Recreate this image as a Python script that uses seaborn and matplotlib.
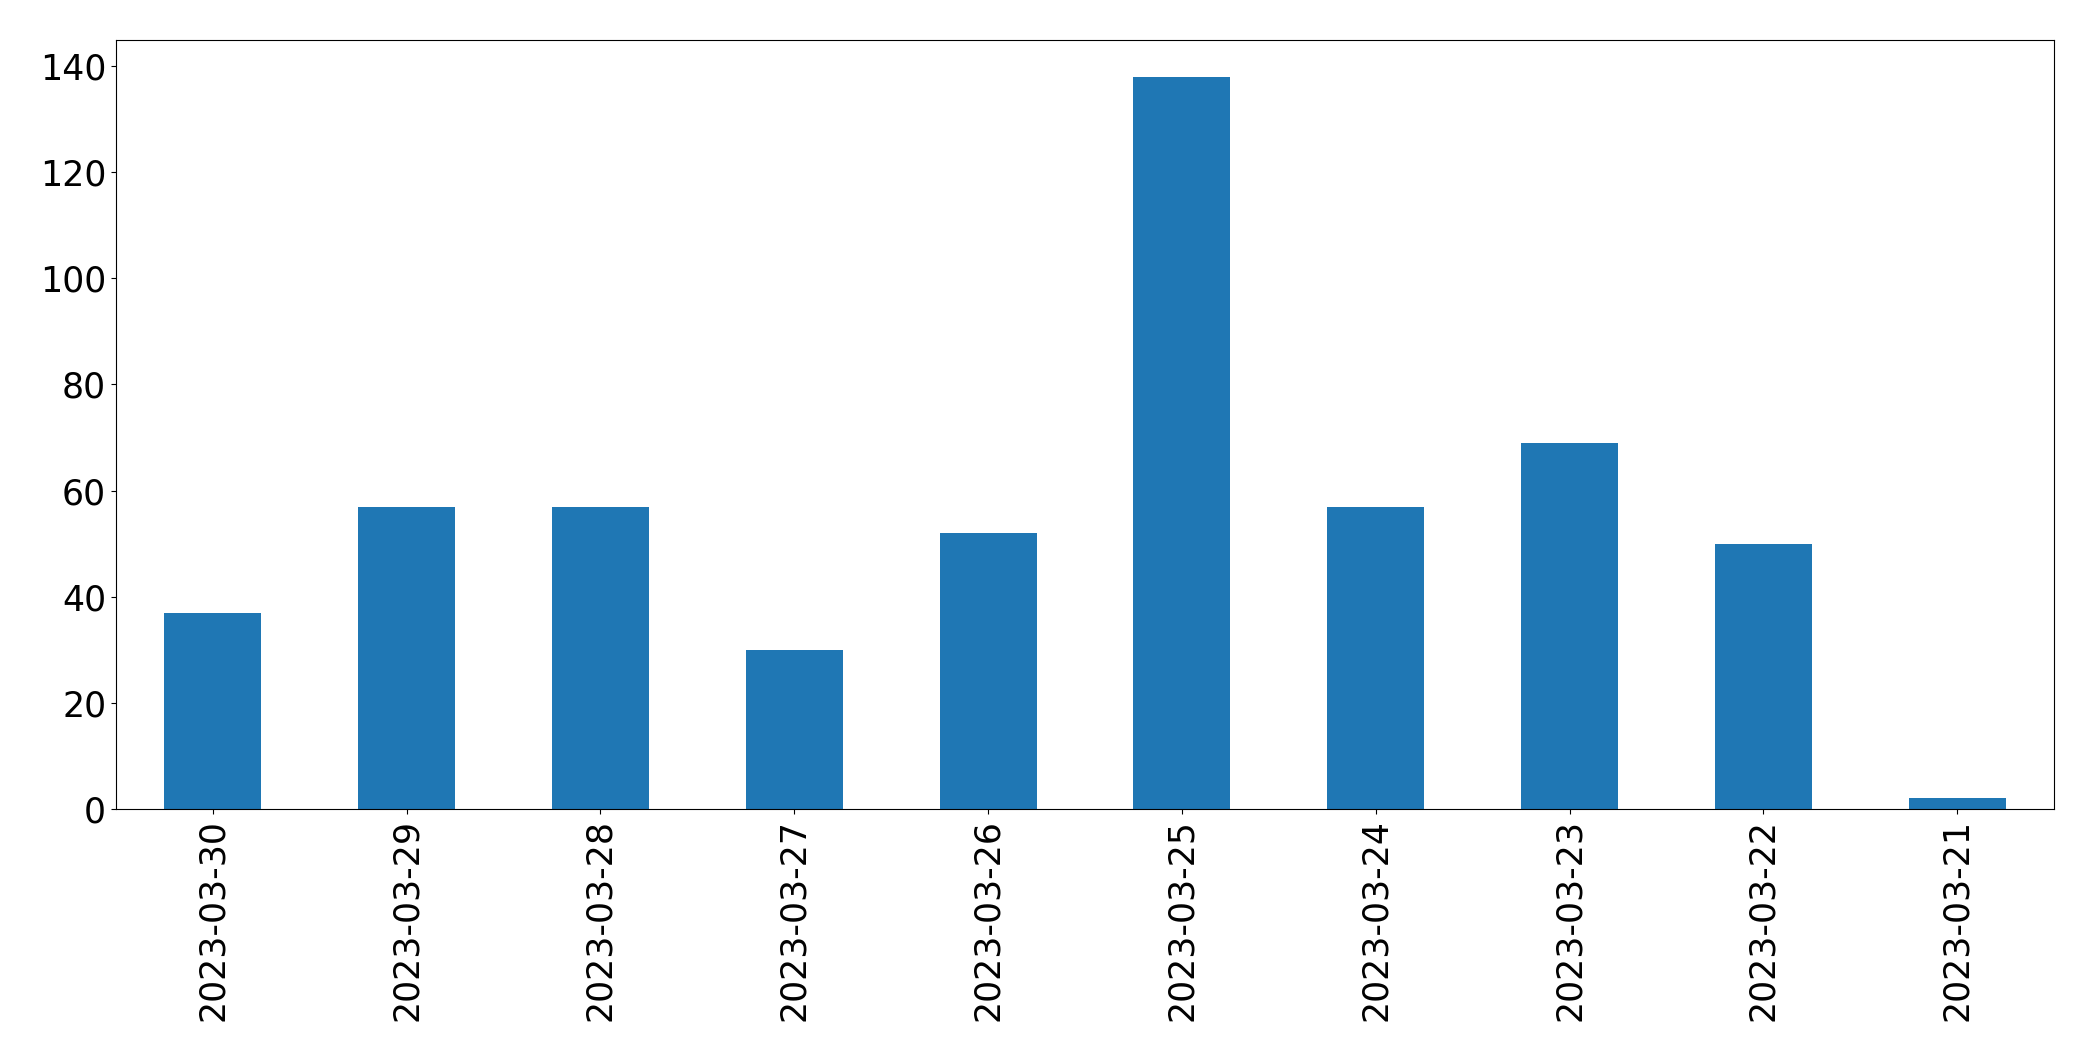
import matplotlib
matplotlib.use('Agg')
import matplotlib.pyplot as plt
import seaborn as sns
import pandas as pd

# ── data ────────────────────────────────────────────────
dates = ['2023-03-30', '2023-03-29', '2023-03-28', '2023-03-27', '2023-03-26',
         '2023-03-25', '2023-03-24', '2023-03-23', '2023-03-22', '2023-03-21']
counts = [37, 57, 57, 30, 52, 138, 57, 69, 50, 2]

df = pd.DataFrame({'date': dates, 'count': counts})

# ── plot ────────────────────────────────────────────────
fig, ax = plt.subplots(figsize=(20.93, 10.61), dpi=100)
fig.subplots_adjust(left=0.0554, right=0.9814, top=0.9623, bottom=0.2375)

sns.barplot(data=df, x='date', y='count', order=dates, color='#1f77b4',
            saturation=1, width=0.5, ax=ax)

ax.set_xlim(-0.5, len(dates) - 0.5)
ax.set_ylim(0, max(counts) * 1.05)
ax.set_xlabel('')
ax.set_ylabel('')
ax.tick_params(axis='both', labelsize=25)
ax.tick_params(axis='x', labelrotation=90)

plt.savefig('out.png', dpi=100)
plt.close()
